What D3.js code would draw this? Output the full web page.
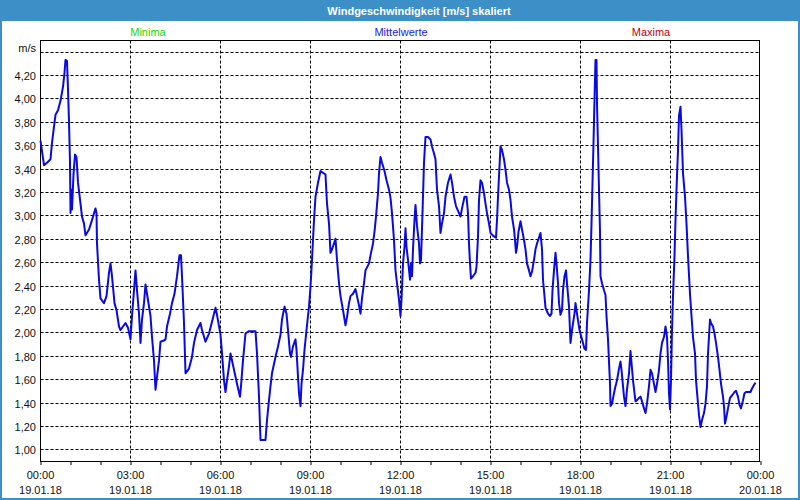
<!DOCTYPE html>
<html><head><meta charset="utf-8">
<script src="https://cdn.jsdelivr.net/npm/d3@7"></script>
<style>body{margin:0;background:#fff}svg{display:block}text{font-family:"Liberation Sans",Arial,sans-serif}</style>
</head><body><svg id="c" width="800" height="500"></svg>
<script>
const title = "Windgeschwindigkeit [m/s] skaliert";
const legendLabels = ["Minima", "Mittelwerte", "Maxima"];
const legendColors = ["#1cd400", "#2020ee", "#c40010"];
const yTickValues = [1.0, 1.2, 1.4, 1.6, 1.8, 2.0, 2.2, 2.4, 2.6, 2.8, 3.0, 3.2, 3.4, 3.6, 3.8, 4.0, 4.2, 4.4];
const yTickLabels = ["1,00","1,20","1,40","1,60","1,80","2,00","2,20","2,40","2,60","2,80","3,00","3,20","3,40","3,60","3,80","4,00","4,20","m/s"];
const xTickHours = [0, 3, 6, 9, 12, 15, 18, 21, 24];
// minutes after 19.01.18 00:00
const minutes = [0,3,7,13,20,23,27,30,35,40,45,48,50,53,55,57,59,60,62,63,66,69,72,75,80,83,87,90,97,103,110,112,113,117,120,127,132,137,140,143,148,152,157,160,170,175,180,183,187,190,193,197,200,203,207,210,213,220,223,227,230,233,237,240,247,250,253,259,263,268,273,278,281,283,287,290,297,303,307,313,320,
323,330,337,343,350,353,360,363,367,370,373,377,380,383,387,393,399,401,405,410,417,430,433,437,440,450,453,457,460,463,470,475,480,483,488,492,495,499,501,505,510,512,515,517,520,522,525,528,532,537,540,543,547,550,555,560,563,570,573,577,580,583,587,590,593,597,600,605,610,613,617,620,625,630,633,637,640,643,647,650,657,661,665,668,671,675,677,680,683,688,692,697,
700,703,707,710,713,717,720,722,725,728,730,732,735,739,741,743,745,748,750,753,757,759,761,764,767,770,775,780,783,787,790,793,797,800,803,807,810,815,820,823,827,831,837,840,843,848,852,855,857,859,861,865,870,872,875,877,880,883,887,890,893,897,900,907,911,913,915,918,920,923,927,930,933,937,940,943,947,949,951,953,956,960,963,967,970,973,977,980,983,987,990,993,997,1000,1003,1005,1008,1010,1015,1019,1022,1024,1027,1030,1032,1035,1037,1040,1043,1045,1048,1051,1053,1057,
1060,1063,1068,1070,1073,1078,1083,1088,1091,1093,1097,1100,1102,1104,1106,1108,1110,1112,1113,1115,1117,1119,1120,1123,1127,1130,1132,1135,1137,1139,1140,1143,1147,1150,1153,1157,1160,1162,1165,1167,1170,1173,1177,1180,1182,1185,1188,1190,1193,1197,1200,1203,1207,1210,1213,1217,1220,1223,1227,1230,1233,1237,1240,1243,1247,1250,1253,1255,1257,1259,1261,1263,1265,1268,1270,1272,1275,1277,1280,1282,1285,1289,1292,1295,1299,1302,1305,1309,1311,1315,1317,1320,1323,1327,1330,1333,1335,1339,1341,1345,1348,1351,1355,1358,1361,1365,1367,1369,1372,1375,1379,1383,1388,1391,1395,1398,1401,1405,1408,1411,1420,1423,1427,1430];
const speeds = [3.64,3.55,3.43,3.45,3.48,3.62,3.76,3.86,3.90,3.98,4.10,4.22,4.33,4.32,4.08,3.80,3.45,3.02,3.22,3.05,3.35,3.52,3.50,3.28,3.10,2.99,2.93,2.83,2.88,2.96,3.06,3.02,2.76,2.45,2.29,2.25,2.31,2.51,2.59,2.48,2.25,2.19,2.05,2.02,2.08,2.04,1.94,2.14,2.36,2.53,2.36,2.16,1.91,2.11,2.25,2.41,2.33,2.14,1.96,1.76,1.51,1.62,1.76,1.92,1.93,1.94,2.05,2.16,2.25,2.33,2.48,2.66,2.66,2.48,2.08,1.65,1.69,1.79,1.91,2.02,2.08,
2.02,1.92,1.99,2.09,2.21,2.15,1.98,1.82,1.59,1.49,1.59,1.71,1.82,1.76,1.68,1.56,1.45,1.54,1.76,1.99,2.01,2.01,1.82,1.45,1.08,1.08,1.25,1.42,1.54,1.65,1.79,1.88,1.98,2.11,2.22,2.16,2.02,1.82,1.79,1.88,1.94,1.85,1.62,1.48,1.37,1.56,1.68,1.85,2.02,2.22,2.39,2.62,2.96,3.16,3.28,3.38,3.37,3.35,3.10,2.93,2.68,2.71,2.76,2.80,2.62,2.42,2.31,2.19,2.06,2.13,2.25,2.31,2.33,2.37,2.31,2.23,2.16,2.29,2.42,2.53,2.59,2.68,2.76,2.86,2.99,3.19,3.36,3.50,3.45,3.38,3.30,3.22,
3.15,3.02,2.79,2.53,2.42,2.28,2.14,2.28,2.59,2.73,2.89,2.73,2.62,2.45,2.59,2.48,2.71,2.96,3.09,2.91,2.76,2.59,2.62,3.02,3.45,3.67,3.67,3.65,3.59,3.53,3.48,3.22,3.08,2.85,2.93,3.02,3.16,3.28,3.35,3.28,3.16,3.08,3.02,2.99,3.06,3.16,3.16,3.02,2.76,2.59,2.46,2.48,2.51,2.56,2.82,3.13,3.30,3.28,3.19,3.10,3.02,2.93,2.85,2.82,2.81,2.96,3.16,3.42,3.59,3.56,3.48,3.39,3.28,3.22,3.13,2.99,2.88,2.79,2.68,2.73,2.86,2.95,2.88,2.79,2.71,2.59,2.53,2.48,2.52,2.62,2.71,2.76,2.81,2.85,2.71,2.45,2.31,2.21,2.16,2.14,2.16,2.36,2.53,2.68,2.59,2.42,2.25,2.15,2.19,2.36,2.48,2.53,2.42,2.22,
1.91,2.02,2.16,2.25,2.16,2.02,1.94,1.86,1.85,2.08,2.36,2.62,2.93,3.28,3.62,3.99,4.33,4.33,3.96,3.59,3.22,2.86,2.48,2.42,2.36,2.32,2.14,1.94,1.75,1.56,1.37,1.39,1.48,1.54,1.59,1.69,1.75,1.68,1.54,1.45,1.37,1.51,1.65,1.84,1.74,1.59,1.48,1.41,1.42,1.44,1.45,1.41,1.35,1.31,1.39,1.54,1.68,1.65,1.56,1.49,1.56,1.68,1.82,1.91,1.96,2.05,1.96,1.76,1.48,1.34,1.59,2.02,2.31,2.65,2.96,3.22,3.56,3.85,3.93,3.73,3.36,3.16,2.93,2.65,2.33,2.14,1.96,1.82,1.59,1.39,1.29,1.19,1.25,1.31,1.39,1.54,1.82,2.11,2.08,2.05,1.99,1.91,1.79,1.68,1.56,1.45,1.37,1.22,1.28,1.35,1.44,1.46,1.49,1.50,1.45,1.38,1.35,1.42,1.48,1.49,1.49,1.52,1.55,1.57];

const svg = d3.select("#c");
const W = 800, H = 500;
const start = new Date(2018, 0, 19, 0, 0);
const end = new Date(2018, 0, 20, 0, 0);
const x = d3.scaleTime().domain([start, end]).range([40.5, 760.5]);
const y = d3.scaleLinear().domain([0.9, 4.5]).range([461, 40]);
const blue = "#3c8fc7";

// window frame
svg.append("rect").attr("x", 0).attr("y", 0).attr("width", W).attr("height", H).attr("fill", "#fff");
svg.append("rect").attr("x", 1).attr("y", 1).attr("width", W - 2).attr("height", H - 2)
  .attr("fill", "none").attr("stroke", blue).attr("stroke-width", 2);
svg.append("rect").attr("x", 0).attr("y", 0).attr("width", W).attr("height", 21).attr("fill", blue);
svg.append("text").attr("x", 419).attr("y", 14.5).attr("text-anchor", "middle")
  .attr("fill", "#fff").attr("font-weight", "bold").attr("font-size", 11).text(title);

// legend
const legendX = [148, 401, 651];
legendLabels.forEach((l, i) => {
  svg.append("text").attr("x", legendX[i]).attr("y", 35.5).attr("text-anchor", "middle")
    .attr("fill", legendColors[i]).attr("font-size", 11).text(l);
});

const x0 = 40.5, x1 = 760.5, yTop = 40.5, yBot = 461.5;

// horizontal grid
const g = svg.append("g");
yTickValues.forEach((v, i) => {
  const yy = Math.round(y(v)) + 0.5;
  g.append("line").attr("x1", x0).attr("x2", x1).attr("y1", yy).attr("y2", yy)
    .attr("stroke", "#000").attr("stroke-dasharray", "3,2");
  svg.append("text").attr("x", 36).attr("y", yy + (i === yTickValues.length - 1 ? -1 : 4))
    .attr("text-anchor", "end").attr("font-size", 11).attr("fill", "#111").text(yTickLabels[i]);
});
// vertical grid
xTickHours.slice(1, -1).forEach(h => {
  const xx = Math.round(x(d3.timeHour.offset(start, h)) - 0.5) + 0.5;
  g.append("line").attr("x1", xx).attr("x2", xx).attr("y1", yTop).attr("y2", yBot)
    .attr("stroke", "#000").attr("stroke-dasharray", "3,2");
});

// x axis ticks (hourly) and labels
const xAxis = d3.axisBottom(x).ticks(d3.timeHour.every(1)).tickSize(4).tickFormat("");
const ax = svg.append("g").attr("transform", `translate(0,${yBot - 0.5})`).call(xAxis);
ax.select(".domain").remove();
ax.selectAll("line").attr("stroke", "#000");
const fT = d3.timeFormat("%H:%M"), fD = d3.timeFormat("%d.%m.%y");
xTickHours.forEach(h => {
  const d = d3.timeHour.offset(start, h);
  const xx = x(d);
  svg.append("text").attr("x", xx).attr("y", 479).attr("text-anchor", "middle")
    .attr("font-size", 11).attr("fill", "#111").text(fT(d));
  svg.append("text").attr("x", xx).attr("y", 494).attr("text-anchor", "middle")
    .attr("font-size", 11).attr("fill", "#111").text(fD(d));
});

// plot frame
svg.append("rect").attr("x", x0).attr("y", yTop).attr("width", x1 - x0 - 1).attr("height", yBot - yTop)
  .attr("fill", "none").attr("stroke", "#000");

// data line
const data = minutes.map((m, i) => ({ t: d3.timeMinute.offset(start, m), v: speeds[i] }));
const line = d3.line().x(d => x(d.t)).y(d => y(d.v));
svg.append("path").datum(data).attr("d", line).attr("fill", "none")
  .attr("stroke", "#0a0ae0").attr("stroke-width", 2).attr("stroke-linejoin", "round");
</script></body></html>
